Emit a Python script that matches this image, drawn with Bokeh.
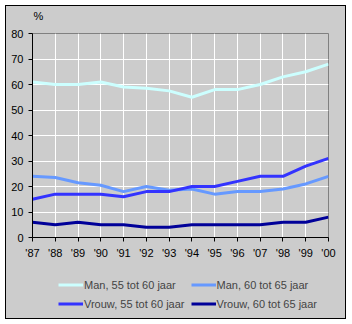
from bokeh.plotting import figure
from bokeh.layouts import column
from bokeh.models import (ColumnDataSource, FixedTicker, Legend, LegendItem, Range1d, Label)
from bokeh.embed import file_html
from bokeh.resources import INLINE

years = ["'87", "'88", "'89", "'90", "'91", "'92", "'93", "'94", "'95", "'96", "'07", "'98", "'99", "'00"]
man_55_60 = [61, 60, 60, 61, 59, 58.5, 57.5, 55, 58, 58, 60, 63, 65, 68]
man_60_65 = [24, 23.5, 21.5, 20.5, 18, 20, 18.5, 19, 17, 18, 18, 19, 21, 24]
vrouw_55_60 = [15, 17, 17, 17, 16, 18, 18, 20, 20, 22, 24, 24, 28, 31]
vrouw_60_65 = [6, 5, 6, 5, 5, 4, 4, 5, 5, 5, 5, 6, 6, 8]

series_names = ["Man, 55 tot 60 jaar", "Man, 60 tot 65 jaar",
                "Vrouw, 55 tot 60 jaar", "Vrouw, 60 tot 65 jaar"]
series_colors = ["#CCFFFF", "#6699FF", "#3333FF", "#000099"]
series_values = [man_55_60, man_60_65, vrouw_55_60, vrouw_60_65]
unit_label = "%"

FONT = "Liberation Sans"
GRAY = "#CCCCCC"

x = list(range(len(years)))


def blank_panel(h):
    f = figure(width=339, height=h, output_backend="svg", toolbar_location=None,
               x_range=Range1d(0, 1), y_range=Range1d(-2, -1),
               x_axis_type=None, y_axis_type=None,
               min_border_left=0, min_border_right=0, min_border_top=0,
               min_border_bottom=0)
    f.border_fill_color = GRAY
    f.background_fill_alpha = 0
    f.outline_line_color = None
    return f


# ---- unit label strip ----
t = blank_panel(20)
t.add_layout(Label(x=1, y=10.5, x_units="screen", y_units="screen", text=unit_label,
                   text_font=FONT, text_font_size="11px", text_color="black",
                   text_baseline="middle"))

# ---- main chart ----
p = figure(width=339, height=242, output_backend="svg", toolbar_location=None,
           x_range=Range1d(0, len(years) - 1), y_range=Range1d(0, 80),
           min_border_left=26, min_border_right=17, min_border_top=7,
           min_border_bottom=31)
p.border_fill_color = GRAY
p.background_fill_alpha = 0
p.outline_line_color = "#808080"
p.outline_line_width = 1
p.title.text = ""

for name, col, vals in zip(series_names, series_colors, series_values):
    src = ColumnDataSource(dict(x=x, y=vals))
    p.line("x", "y", source=src, line_color=col, line_width=3)

p.xaxis.ticker = FixedTicker(ticks=x)
p.xaxis.major_label_overrides = {i: lab for i, lab in enumerate(years)}
p.yaxis.ticker = FixedTicker(ticks=list(range(0, 81, 10)))

for ax in (p.xaxis, p.yaxis):
    ax.axis_line_color = "black"
    ax.major_tick_line_color = "black"
    ax.major_tick_in = 0
    ax.major_tick_out = 4
    ax.minor_tick_line_color = None
    ax.major_label_text_font = FONT
    ax.major_label_text_font_size = "11px"
    ax.major_label_text_color = "black"
p.xaxis.major_label_standoff = 5
p.yaxis.major_label_standoff = 5

p.xgrid.ticker = FixedTicker(ticks=x)
p.ygrid.ticker = FixedTicker(ticks=list(range(0, 81, 10)))
p.grid.grid_line_color = "white"
p.grid.grid_line_width = 1

# ---- legend strip (its lines fall outside this strip's visible range) ----
q = blank_panel(50)
legend_rs = {}
for name, col, vals in zip(series_names, series_colors, series_values):
    src = ColumnDataSource(dict(x=x, y=vals))
    legend_rs[name] = q.line("x", "y", source=src, line_color=col, line_width=3)

order = [series_names[0], series_names[2], series_names[1], series_names[3]]
items = [LegendItem(label=n, renderers=[legend_rs[n]]) for n in order]

legend = Legend(items=items, ncols=2, location=(26, 8), padding=0, margin=0,
                spacing=6, glyph_width=25, glyph_height=13, label_height=13,
                label_standoff=1, label_text_font=FONT,
                label_text_font_size="11px", border_line_alpha=0,
                background_fill_alpha=0)
q.add_layout(legend)

layout = column(t, p, q, spacing=0, margin=(6, 0, 0, 6),
                styles={"outline": "1px solid black", "background-color": GRAY})

open("out.html", "w").write(file_html(layout, INLINE))
